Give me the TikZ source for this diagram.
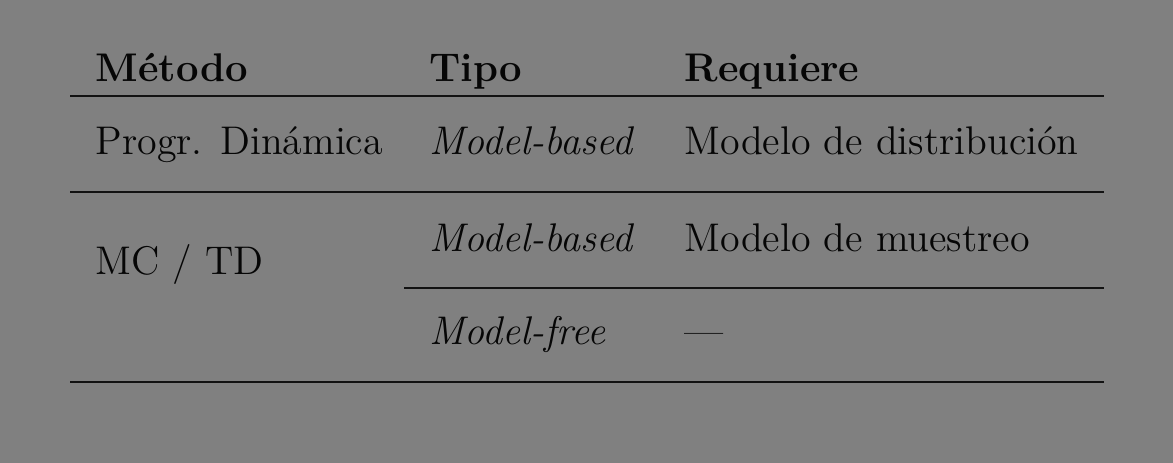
\documentclass[tikz,border=0pt]{standalone}
\usepackage{fontspec}
\definecolor{fondo}{RGB}{128,128,128}
\definecolor{tinta}{RGB}{6,6,6}
\begin{document}
\begin{tikzpicture} [
            x=0.3pt, y=-0.3pt,
            celda/.style={anchor=base west,inner sep=0pt,text=tinta,font=\fontsize{12}{14}\selectfont},
            titulo/.style={celda,font=\fontsize{12}{14}\selectfont\bfseries},
            regla/.style = {draw=tinta!90!fondo,line width=0.6pt},
        ]
        \fill[fondo] (0,0) rectangle (1173,463);
        \useasboundingbox (0,0) rectangle (1173,463);
        % cabecera
        \foreach \pos/\name/\texto in {
                {(95,82)/hmetodo/Método}, {(429,82)/htipo/Tipo}, {(684,82)/hreq/Requiere}}
            \node[titulo] (\name) at \pos {\texto};
        % filas
        \node[celda] (dp) at (95,155) {Progr. Dinámica};
        \node[celda] (dptipo) at (429,155) {\itshape Model-based};
        \node[celda] (dpreq) at (684,155) {Modelo de distribución};
        \node[celda] (mctd) at (95,275) {MC / TD};
        \node[celda] (mbtipo) at (429,252) {\itshape Model-based};
        \node[celda] (mbreq) at (684,252) {Modelo de muestreo};
        \node[celda] (mftipo) at (429,345) {\itshape Model-free};
        \node[celda] (mfreq) at (684,345) {---};
        % reglas
        \foreach \name/\xa/\xb/\y in {
                r1/70/1104/96, r2/70/1104/192, r3/404/1104/288, r4/70/1104/382} {
            \coordinate (\name a) at (\xa,\y);
            \coordinate (\name b) at (\xb,\y);
            \path[regla] (\name a) -- (\name b);
        }
    \end{tikzpicture}
\end{document}
